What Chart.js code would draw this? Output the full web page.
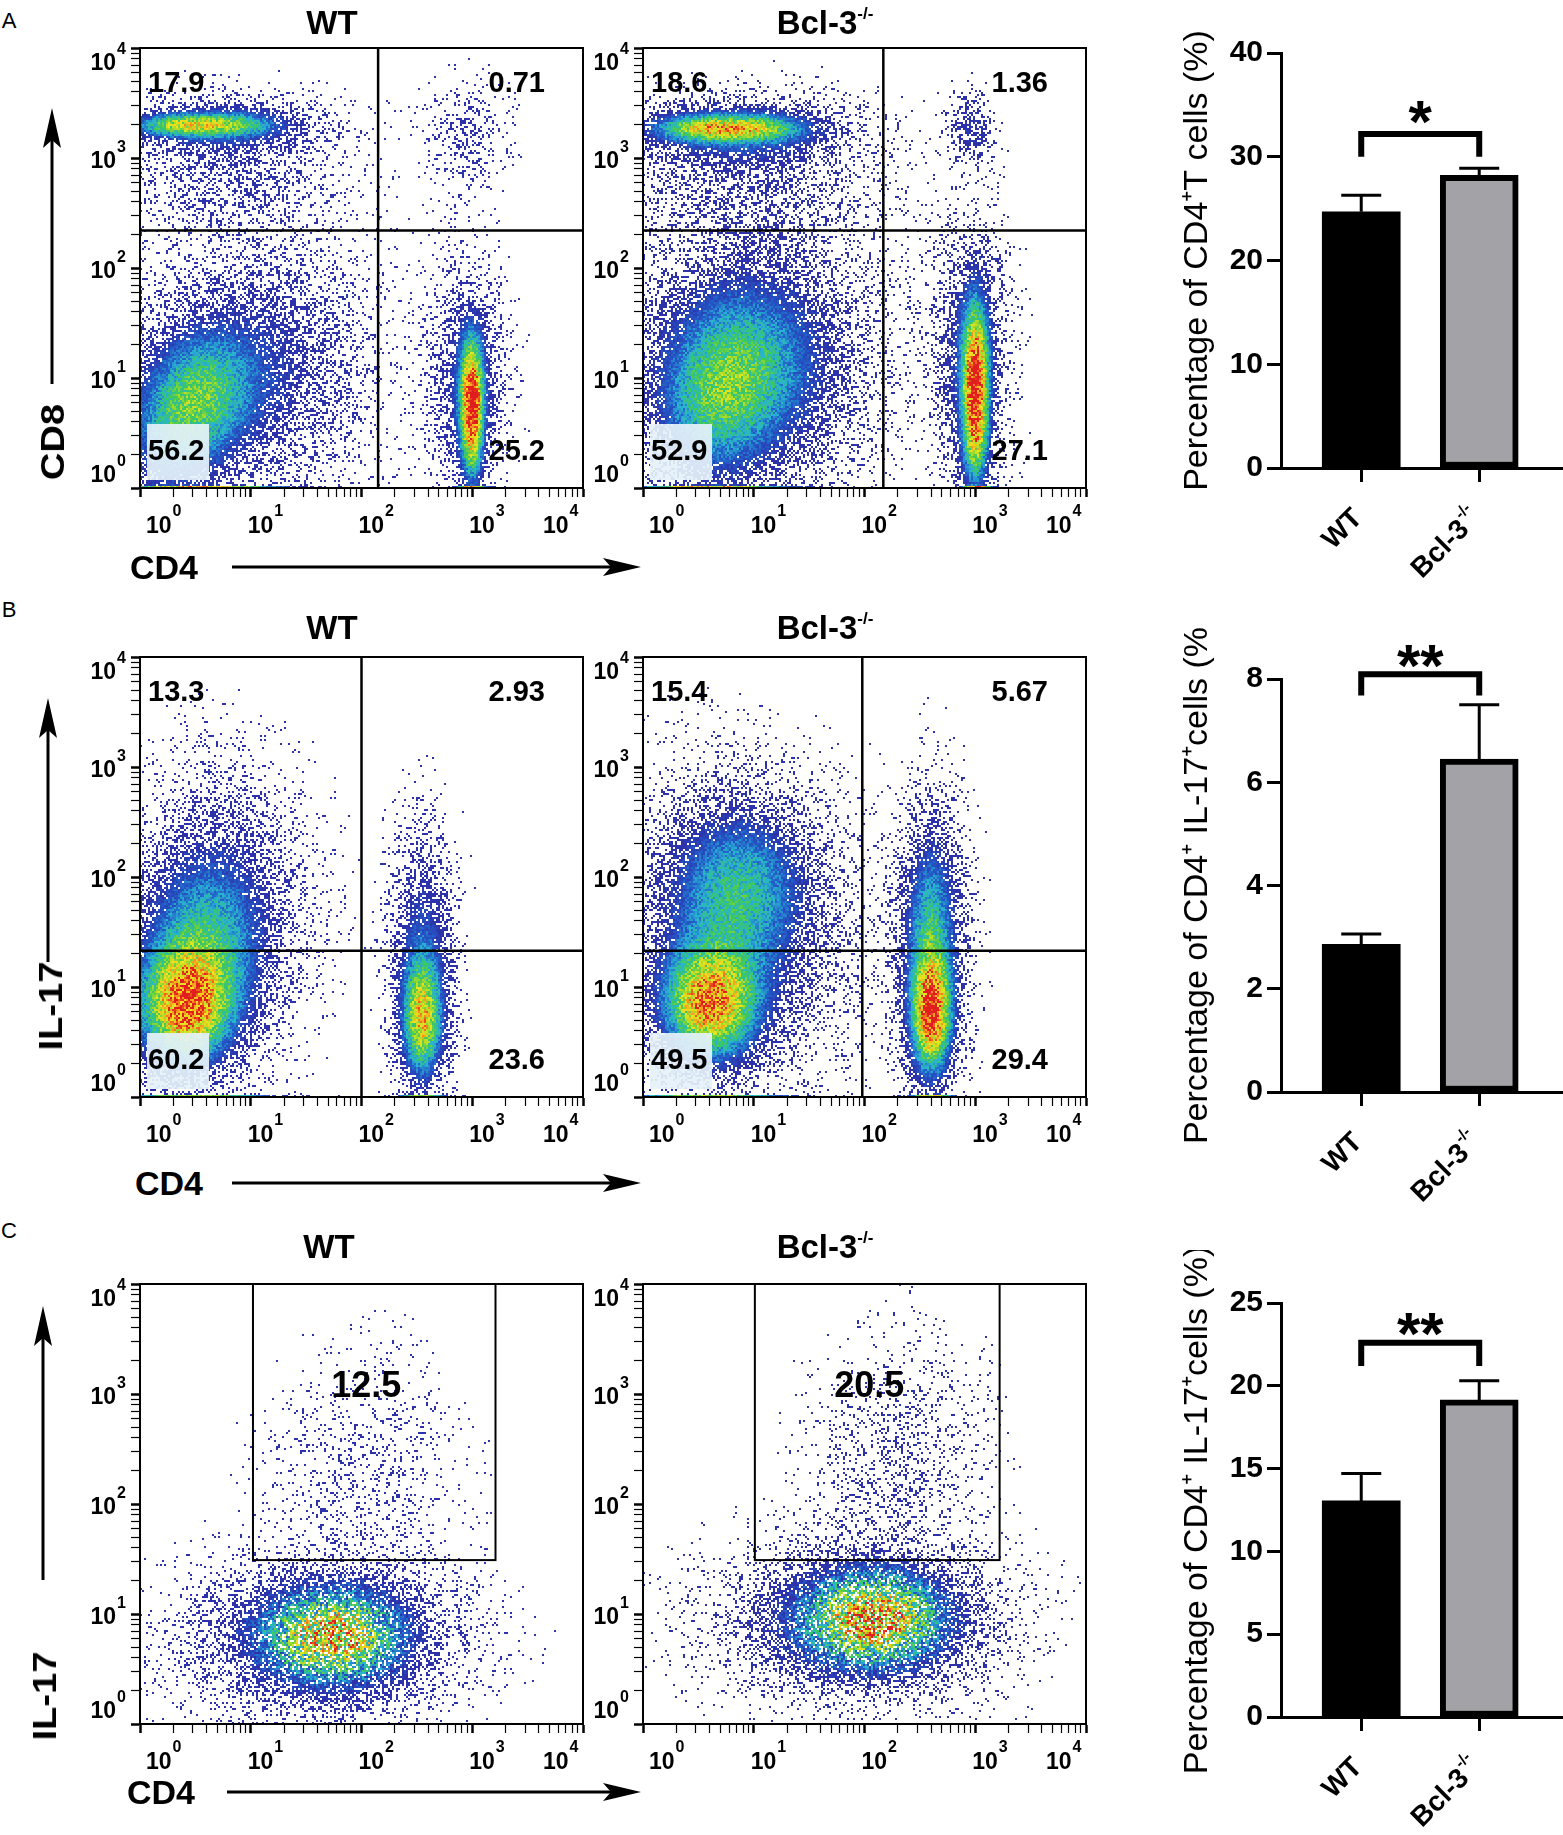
<!DOCTYPE html>
<html>
<head>
<meta charset="utf-8">
<title>Bcl-3 CD4 / IL-17</title>
<script src="https://cdn.jsdelivr.net/npm/chart.js@4.4.1/dist/chart.umd.min.js"></script>
<style>
  body { margin: 0; background: #fff; }
  #fig { position: relative; width: 1563px; height: 1835px; overflow: hidden;
         font-family: "Liberation Sans", Arial, sans-serif; color: #000; }
  #fig canvas { position: absolute; }
  .lbl { position: absolute; line-height: 1; white-space: nowrap; transform: translate(-50%, -50%); }
  .panel { font-size: 22px; }
  .head { font-size: 33px; font-weight: bold; }
  .head sup { font-size: 17px; vertical-align: 15px; line-height: 0; }
  .ax { font-size: 34px; font-weight: bold; }
  .rot { transform: translate(-50%, -50%) rotate(-90deg) scaleX(1.12); }
  svg { position: absolute; left: 0; top: 0; }
</style>
</head>
<body>
<div id="fig">
  <svg width="1563" height="1835">
    <g stroke="#000" stroke-width="3">
      <line x1="52" y1="384" x2="52" y2="130"/>
      <line x1="232" y1="567" x2="620" y2="567"/>
      <line x1="48" y1="962" x2="48" y2="720"/>
      <line x1="232" y1="1183" x2="620" y2="1183"/>
      <line x1="43" y1="1580" x2="43" y2="1328"/>
      <line x1="227" y1="1792" x2="620" y2="1792"/>
    </g>
    <g fill="#000">
      <polygon points="52,108 43,148 52,140 61,148"/>
      <polygon points="641,567 603,558 611,567 603,576"/>
      <polygon points="48,698 39,738 48,730 57,738"/>
      <polygon points="641,1183 603,1174 611,1183 603,1192"/>
      <polygon points="43,1306 34,1346 43,1338 52,1346"/>
      <polygon points="641,1792 603,1783 611,1792 603,1801"/>
    </g>
  </svg>

  <canvas id="dotA1" width="547" height="526" style="left:60px;top:26px"></canvas>
  <canvas id="dotA2" width="547" height="526" style="left:563px;top:26px"></canvas>
  <canvas id="dotB1" width="547" height="526" style="left:60px;top:635px"></canvas>
  <canvas id="dotB2" width="547" height="526" style="left:563px;top:635px"></canvas>
  <canvas id="dotC1" width="547" height="526" style="left:60px;top:1262px"></canvas>
  <canvas id="dotC2" width="547" height="526" style="left:563px;top:1262px"></canvas>

  <canvas id="barA" width="388" height="583" style="left:1175px;top:0px"></canvas>
  <canvas id="barB" width="388" height="581" style="left:1175px;top:626px"></canvas>
  <canvas id="barC" width="388" height="582" style="left:1175px;top:1250px"></canvas>

  <div class="lbl panel" style="left:9px;top:21px">A</div>
  <div class="lbl panel" style="left:9px;top:610px">B</div>
  <div class="lbl panel" style="left:9px;top:1231px">C</div>

  <div class="lbl head" style="left:332px;top:22px">WT</div>
  <div class="lbl head" style="left:825px;top:22px">Bcl-3<sup>-/-</sup></div>
  <div class="lbl head" style="left:332px;top:627px">WT</div>
  <div class="lbl head" style="left:825px;top:627px">Bcl-3<sup>-/-</sup></div>
  <div class="lbl head" style="left:329px;top:1246px">WT</div>
  <div class="lbl head" style="left:825px;top:1246px">Bcl-3<sup>-/-</sup></div>

  <div class="lbl ax rot" style="left:52px;top:442px">CD8</div>
  <div class="lbl ax" style="left:164px;top:567px">CD4</div>
  <div class="lbl ax rot" style="left:50px;top:1006px">IL-17</div>
  <div class="lbl ax" style="left:169px;top:1183px">CD4</div>
  <div class="lbl ax rot" style="left:44px;top:1696px">IL-17</div>
  <div class="lbl ax" style="left:161px;top:1792px">CD4</div>
</div>

<script>
// ---- data ----
const decadeBase = '10';
const decadeExp = ['0', '1', '2', '3', '4'];
const groups = ['WT', 'Bcl-3'];
const groupSup = ['', '-/-'];

// quadrant frequencies (%): upper-left, upper-right, lower-left, lower-right
const quadA_WT = ['17.9', '0.71', '56.2', '25.2'];
const quadA_KO = ['18.6', '1.36', '52.9', '27.1'];
const quadB_WT = ['13.3', '2.93', '60.2', '23.6'];
const quadB_KO = ['15.4', '5.67', '49.5', '29.4'];

// quadrant cut points, log10 units [CD4, y-marker]
const cutA_WT = [2.15, 2.34];
const cutA_KO = [2.17, 2.34];
const cutB_WT = [2.0, 1.33];
const cutB_KO = [1.98, 1.33];

// IL-17+ gates in C, log10 units [x from, x to, y from, y to] and frequency
const gateC_WT = [1.02, 3.21, 1.49, 4.0];
const gateC_KO = [1.01, 3.22, 1.49, 4.0];
const freqC_WT = '12.5';
const freqC_KO = '20.5';
const freqC_at = 3.06;

// cell populations: [log10 x centre, log10 y centre, spread x, spread y, peak density]
const cellsA_WT = [
  [0.3, 3.3, 0.25, 0.07, 0.4], [0.75, 3.3, 0.3, 0.07, 0.4], [0.8, 3.3, 0.55, 0.16, 0.2],
  [0.8, 2.85, 0.6, 0.35, 0.11],
  [0.3, 0.5, 0.3, 0.4, 0.35], [0.6, 0.9, 0.3, 0.35, 0.3], [1.0, 1.1, 0.6, 0.65, 0.22],
  [3.0, 0.85, 0.07, 0.35, 0.8], [3.0, 0.4, 0.07, 0.3, 0.35], [2.95, 1.0, 0.2, 0.6, 0.22],
  [2.95, 3.2, 0.2, 0.3, 0.1],
  [0.6, 0.0, 0.5, 0.012, 0.9], [3.0, 0.0, 0.1, 0.012, 0.9]
];
const cellsA_KO = [
  [0.5, 3.27, 0.3, 0.08, 0.45], [1.0, 3.27, 0.3, 0.08, 0.4], [0.9, 3.25, 0.6, 0.18, 0.22],
  [0.9, 2.85, 0.65, 0.38, 0.11],
  [0.6, 0.7, 0.35, 0.45, 0.27], [0.9, 1.1, 0.4, 0.45, 0.25], [1.0, 1.2, 0.65, 0.75, 0.24],
  [3.0, 1.0, 0.08, 0.45, 0.85], [3.0, 0.4, 0.08, 0.3, 0.35], [2.95, 1.2, 0.2, 0.7, 0.22],
  [2.95, 3.25, 0.12, 0.2, 0.18],
  [0.6, 0.0, 0.5, 0.012, 0.9], [3.02, 0.0, 0.1, 0.012, 0.9]
];
const cellsB_WT = [
  [0.4, 0.8, 0.28, 0.35, 0.75], [0.55, 1.3, 0.35, 0.5, 0.3], [0.7, 1.7, 0.45, 0.7, 0.22],
  [2.55, 0.7, 0.12, 0.35, 0.65], [2.55, 1.3, 0.17, 0.65, 0.26],
  [0.5, 0.0, 0.5, 0.012, 0.8], [2.55, 0.0, 0.15, 0.012, 0.8]
];
const cellsB_KO = [
  [0.6, 0.85, 0.28, 0.33, 0.8], [0.85, 1.9, 0.38, 0.45, 0.32], [0.85, 1.5, 0.6, 0.8, 0.2],
  [2.6, 0.75, 0.12, 0.35, 0.85], [2.6, 1.6, 0.15, 0.5, 0.28], [2.6, 1.3, 0.2, 0.8, 0.2],
  [0.6, 0.0, 0.5, 0.012, 0.8], [2.6, 0.0, 0.15, 0.012, 0.8]
];
const cellsC_WT = [
  [1.75, 0.8, 0.38, 0.26, 0.52], [1.7, 0.8, 0.6, 0.35, 0.2], [1.6, 0.75, 0.8, 0.45, 0.1],
  [2.0, 2.3, 0.5, 0.65, 0.05]
];
const cellsC_KO = [
  [2.1, 0.95, 0.38, 0.26, 0.55], [2.0, 0.95, 0.6, 0.35, 0.22], [1.9, 0.9, 0.8, 0.45, 0.1],
  [2.3, 2.4, 0.45, 0.65, 0.07]
];

// bar charts: mean and SEM per group
const pctCD4 = [24.7, 28.2];
const semCD4 = [1.6, 0.7];
const pctIL17 = [2.86, 6.45];
const semIL17 = [0.2, 1.05];
const pctIL17C = [13.05, 19.15];
const semIL17C = [1.65, 1.15];

// significance: text, bracket top, bracket leg end, star centre
const sigText = ['*', '**', '**'];
const bracketTop = [32.2, 8.09, 22.6];
const bracketLeg = [30.0, 7.68, 21.2];
const starAt = [34.4, 8.47, 23.8];

// ---- drawing ----
const FONT = '"Liberation Sans", Arial, sans-serif';
Chart.defaults.font.family = FONT;
Chart.defaults.color = '#000';

const logTicks = [];
for (let e = 0; e < 4; e++) for (let k = 1; k < 10; k++) logTicks.push(e + Math.log10(k));
logTicks.push(4);

// pseudocolour ramp (density -> rgb)
const ramp = [
  [0.18, 45, 50, 170],
  [0.30, 35, 90, 200],
  [0.42, 40, 180, 210],
  [0.55, 60, 200, 90],
  [0.68, 170, 220, 40],
  [0.78, 240, 230, 30],
  [0.90, 245, 140, 30],
  [1.00, 225, 30, 30]
];

function rampColor(t) {
  if (t <= ramp[0][0]) return ramp[0];
  for (let i = 1; i < ramp.length; i++) {
    if (t <= ramp[i][0]) {
      const a = ramp[i - 1], b = ramp[i];
      const f = (t - a[0]) / (b[0] - a[0]);
      return [t, a[1] + (b[1] - a[1]) * f, a[2] + (b[2] - a[2]) * f, a[3] + (b[3] - a[3]) * f];
    }
  }
  return ramp[ramp.length - 1];
}

// fixed screen pattern so a density shows as scattered events
function screen(x, y, a, b) {
  const s = Math.sin(x * a + y * b) * 43758.5453;
  return s - Math.floor(s);
}

const flowSetup = {};

function drawDecades(chart) {
  const xs = chart.scales.x, ys = chart.scales.y, ctx = chart.ctx;
  const {left, bottom} = chart.chartArea;
  ctx.save();
  ctx.fillStyle = '#000';
  ctx.textBaseline = 'middle';
  ctx.textAlign = 'left';
  for (let e = 0; e <= 4; e++) {
    ctx.font = 'bold 23px ' + FONT;
    const bw = ctx.measureText(decadeBase).width;
    ctx.font = 'bold 16px ' + FONT;
    const ew = ctx.measureText(decadeExp[e]).width;
    // x axis
    const bx = xs.getPixelForValue(e) + (e === 0 ? 6 : e === 4 ? -40 : -3);
    ctx.font = 'bold 23px ' + FONT;
    ctx.fillText(decadeBase, bx, bottom + 39);
    ctx.font = 'bold 16px ' + FONT;
    ctx.fillText(decadeExp[e], bx + bw + 1, bottom + 24);
    // y axis
    const ty = ys.getPixelForValue(e);
    const dy = e === 0 ? -12 : e === 4 ? 16 : 4;
    const ex = left - 14 - ew;
    ctx.fillText(decadeExp[e], ex, ty + dy - 14);
    ctx.font = 'bold 23px ' + FONT;
    ctx.fillText(decadeBase, ex - 1 - bw, ty + dy);
  }
  ctx.restore();
}

const flowPlugin = {
  id: 'flow',
  beforeDatasetsDraw(chart) {
    const s = flowSetup[chart.canvas.id];
    const {left, top, width, height} = chart.chartArea;
    const xs = chart.scales.x, ys = chart.scales.y;
    const w = Math.round(width), h = Math.round(height);
    const off = document.createElement('canvas');
    off.width = w; off.height = h;
    const octx = off.getContext('2d');
    const img = octx.createImageData(w, h);
    const B = 2;
    for (let bj = 0; bj < h; bj += B) {
      const vy = ys.getValueForPixel(top + bj + B / 2);
      for (let bi = 0; bi < w; bi += B) {
        const vx = xs.getValueForPixel(left + bi + B / 2);
        let d = 0;
        for (const p of s.cells) {
          const dx = (vx - p[0]) / p[2], dy = (vy - p[1]) / p[3];
          d += p[4] * Math.exp(-0.5 * (dx * dx + dy * dy));
        }
        if (d < 0.003) continue;
        const gx = bi / B + s.seed, gy = bj / B;
        const cover = Math.min(s.maxCover, d / 0.3);
        if (screen(gx, gy, 12.9898, 78.233) > cover) continue;
        const m = 1 - s.mottle / 2 + s.mottle * screen(gx, gy, 39.3467, 11.1351);
        const c = rampColor(Math.min(1, d * m));
        for (let j = bj; j < Math.min(bj + B, h); j++) {
          for (let i = bi; i < Math.min(bi + B, w); i++) {
            const k = (j * w + i) * 4;
            img.data[k] = c[1]; img.data[k + 1] = c[2]; img.data[k + 2] = c[3]; img.data[k + 3] = 255;
          }
        }
      }
    }
    octx.putImageData(img, 0, 0);
    chart.ctx.drawImage(off, left, top, width, height);
  },
  afterDatasetsDraw(chart) {
    const s = flowSetup[chart.canvas.id];
    const {left, right, top, bottom} = chart.chartArea;
    const xs = chart.scales.x, ys = chart.scales.y;
    const ctx = chart.ctx;
    ctx.save();
    ctx.strokeStyle = '#000';
    if (s.quad) {
      // pale box behind the lower-left frequency
      ctx.fillStyle = 'rgba(230,242,248,0.92)';
      ctx.fillRect(left + 7, bottom - 64, 62, 56);
      const qx = xs.getPixelForValue(s.cut[0]), qy = ys.getPixelForValue(s.cut[1]);
      ctx.lineWidth = 2.5;
      ctx.beginPath();
      ctx.moveTo(qx, top); ctx.lineTo(qx, bottom);
      ctx.moveTo(left, qy); ctx.lineTo(right, qy);
      ctx.stroke();
      ctx.fillStyle = '#000';
      ctx.font = 'bold 29px ' + FONT;
      ctx.textBaseline = 'middle';
      ctx.textAlign = 'left';
      ctx.fillText(s.quad[0], left + 8, top + 36);
      ctx.fillText(s.quad[2], left + 8, bottom - 36);
      ctx.textAlign = 'right';
      ctx.fillText(s.quad[1], right - 38, top + 36);
      ctx.fillText(s.quad[3], right - 38, bottom - 36);
    }
    if (s.gate) {
      const g = s.gate;
      const x0 = xs.getPixelForValue(g[0]), x1 = xs.getPixelForValue(g[1]);
      const y0 = ys.getPixelForValue(g[2]), y1 = ys.getPixelForValue(g[3]);
      ctx.lineWidth = 2;
      ctx.strokeRect(x0, y1, x1 - x0, y0 - y1);
      ctx.fillStyle = '#000';
      ctx.font = 'bold 36px ' + FONT;
      ctx.textAlign = 'center';
      ctx.textBaseline = 'middle';
      ctx.fillText(s.freq, (x0 + x1) / 2 - 8, ys.getPixelForValue(freqC_at));
    }
    ctx.lineWidth = 2;
    ctx.strokeRect(left, top, right - left, bottom - top);
    ctx.restore();
  },
  afterDraw(chart) { drawDecades(chart); }
};

function logAxis(pos) {
  const horizontal = pos === 'bottom';
  return {
    type: 'linear', position: pos, min: 0, max: 4,
    afterBuildTicks: (scale) => { scale.ticks = logTicks.map(v => ({value: v})); },
    afterFit: (scale) => { if (horizontal) scale.height = 64; else scale.width = 80; },
    ticks: {display: false, autoSkip: false},
    grid: {
      drawOnChartArea: false, drawTicks: true, tickLength: 9, tickColor: '#000',
      tickWidth: (c) => (c.tick && Number.isInteger(c.tick.value)) ? 2.5 : 1.2
    },
    border: {display: true, color: '#000', width: 2}
  };
}

function flowChart(id, seed, setup) {
  setup.seed = seed;
  if (setup.mottle === undefined) setup.mottle = 0.45;
  if (setup.maxCover === undefined) setup.maxCover = 1;
  flowSetup[id] = setup;
  new Chart(document.getElementById(id), {
    type: 'scatter',
    data: {datasets: []},
    options: {
      responsive: false, animation: false,
      layout: {padding: {top: 22, right: 24, left: 0, bottom: 0}},
      plugins: {legend: {display: false}, tooltip: {enabled: false}},
      scales: {x: logAxis('bottom'), y: logAxis('left')}
    },
    plugins: [flowPlugin]
  });
}

flowChart('dotA1', 0, {cells: cellsA_WT, quad: quadA_WT, cut: cutA_WT});
flowChart('dotA2', 300, {cells: cellsA_KO, quad: quadA_KO, cut: cutA_KO});
flowChart('dotB1', 600, {cells: cellsB_WT, quad: quadB_WT, cut: cutB_WT});
flowChart('dotB2', 900, {cells: cellsB_KO, quad: quadB_KO, cut: cutB_KO});
flowChart('dotC1', 1200, {cells: cellsC_WT, gate: gateC_WT, freq: freqC_WT, mottle: 0.9, maxCover: 0.8});
flowChart('dotC2', 1500, {cells: cellsC_KO, gate: gateC_KO, freq: freqC_KO, mottle: 0.9, maxCover: 0.8});

const barSetup = {};

const barExtras = {
  id: 'barExtras',
  afterDatasetsDraw(chart) {
    const s = barSetup[chart.canvas.id];
    const xs = chart.scales.x, ys = chart.scales.y, ctx = chart.ctx;
    ctx.save();
    ctx.strokeStyle = '#000';
    ctx.lineWidth = 3;
    s.means.forEach((m, i) => {
      const x = xs.getPixelForValue(i);
      const y0 = ys.getPixelForValue(m), y1 = ys.getPixelForValue(m + s.sems[i]);
      ctx.beginPath();
      ctx.moveTo(x, y0); ctx.lineTo(x, y1);
      ctx.moveTo(x - 20, y1); ctx.lineTo(x + 20, y1);
      ctx.stroke();
    });
    const xa = xs.getPixelForValue(0), xb = xs.getPixelForValue(1);
    const yt = ys.getPixelForValue(bracketTop[s.k]), yl = ys.getPixelForValue(bracketLeg[s.k]);
    ctx.lineWidth = 6;
    ctx.lineJoin = 'miter';
    ctx.beginPath();
    ctx.moveTo(xa, yl); ctx.lineTo(xa, yt); ctx.lineTo(xb, yt); ctx.lineTo(xb, yl);
    ctx.stroke();
    ctx.fillStyle = '#000';
    ctx.font = 'bold 60px ' + FONT;
    ctx.textAlign = 'center';
    ctx.textBaseline = 'alphabetic';
    ctx.fillText(sigText[s.k], (xa + xb) / 2, ys.getPixelForValue(starAt[s.k]) + 31);
    // rotated group labels
    const axisY = chart.chartArea.bottom;
    groups.forEach((g, i) => {
      const x = xs.getPixelForValue(i);
      ctx.save();
      ctx.translate(x - 3, axisY + 46);
      ctx.rotate(-Math.PI / 4);
      ctx.textBaseline = 'middle';
      ctx.textAlign = 'right';
      let supW = 0;
      if (groupSup[i]) {
        ctx.font = 'bold 16px ' + FONT;
        supW = ctx.measureText(groupSup[i]).width + 1;
        ctx.fillText(groupSup[i], 0, -11);
      }
      ctx.font = 'bold 28px ' + FONT;
      ctx.fillText(g, -supW, 0);
      ctx.restore();
    });
    ctx.restore();
  }
};

function barChart(id, k, means, sems, ymax, step, title) {
  barSetup[id] = {k, means, sems};
  new Chart(document.getElementById(id), {
    type: 'bar',
    data: {
      datasets: [{
        data: means.map((v, i) => ({x: i, y: v})),
        backgroundColor: ['#000000', '#a3a3a7'],
        borderColor: '#000000',
        borderWidth: [0, 6],
        borderSkipped: false,
        barThickness: 78,
        maxBarThickness: 78
      }]
    },
    options: {
      responsive: false, animation: false,
      layout: {padding: {top: 53, right: 0, left: 0, bottom: 0}},
      plugins: {legend: {display: false}, tooltip: {enabled: false}},
      scales: {
        x: {
          type: 'linear', min: -0.68, max: 1.71, offset: false,
          afterBuildTicks: (scale) => { scale.ticks = [{value: 0}, {value: 1}]; },
          afterFit: (scale) => { scale.height = 115; },
          ticks: {display: false},
          grid: {offset: false, drawOnChartArea: false, drawTicks: true, tickLength: 14, tickWidth: 3, tickColor: '#000'},
          border: {display: true, color: '#000', width: 3}
        },
        y: {
          min: 0, max: ymax,
          afterFit: (scale) => { scale.width = 106; },
          ticks: {stepSize: step, padding: 4, font: {size: 30, weight: 'bold'}, color: '#000'},
          grid: {drawOnChartArea: false, drawTicks: true, tickLength: 14, tickWidth: 3, tickColor: '#000'},
          border: {display: true, color: '#000', width: 3},
          title: {display: true, text: title, font: {size: 34}, color: '#000', padding: {top: 2, bottom: 2}}
        }
      }
    },
    plugins: [barExtras]
  });
}

barChart('barA', 0, pctCD4, semCD4, 40, 10, 'Percentage of CD4⁺T cells (%)');
barChart('barB', 1, pctIL17, semIL17, 8, 2, 'Percentage of CD4⁺ IL-17⁺cells (%');
barChart('barC', 2, pctIL17C, semIL17C, 25, 5, 'Percentage of CD4⁺ IL-17⁺cells (%)');
</script>
</body>
</html>
